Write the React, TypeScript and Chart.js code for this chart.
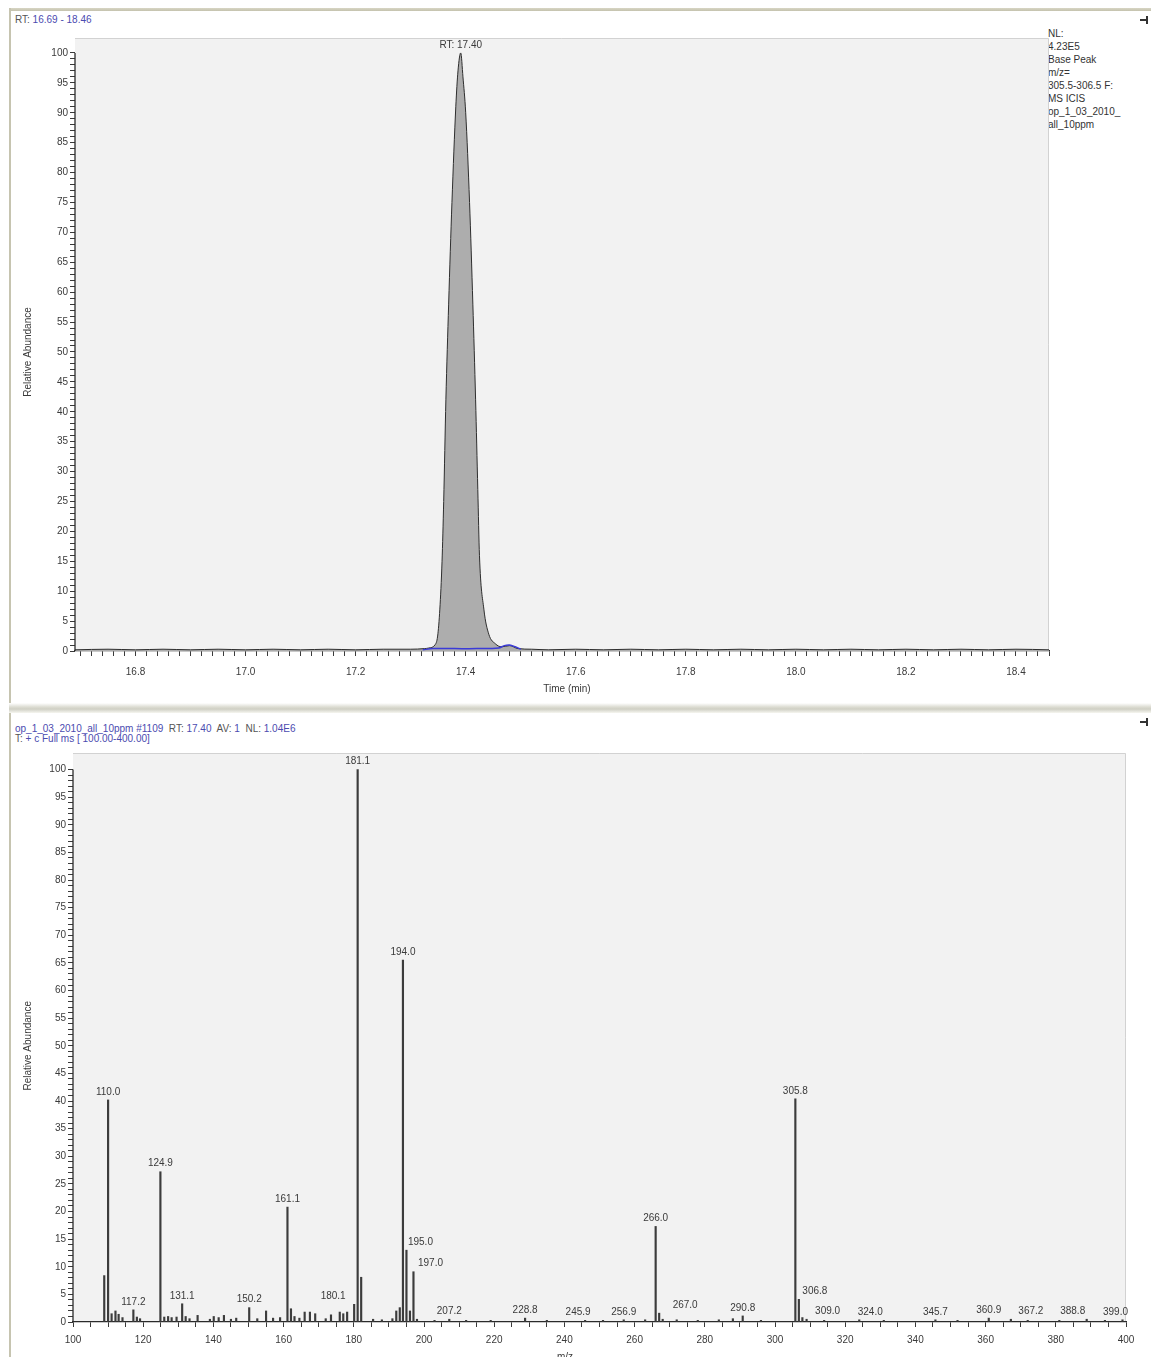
import React, { useEffect, useRef } from 'react';
import { Chart, registerables } from 'chart.js';

Chart.register(...registerables);

const FONT = '"Liberation Sans", Arial, sans-serif';

// ---------- Top panel: base-peak chromatogram (RT in min, relative abundance %) ----------
const rtTimes = [
  16.69, 16.75, 16.8, 16.85, 16.9, 16.95, 17.0, 17.05, 17.1, 17.15, 17.2, 17.25, 17.3, 17.325,
  17.333, 17.344, 17.349, 17.353, 17.357, 17.36, 17.364, 17.369, 17.375, 17.382, 17.386, 17.391,
  17.395, 17.4, 17.407, 17.413, 17.418, 17.422, 17.425, 17.433, 17.442, 17.454, 17.465, 17.48,
  17.495, 17.52, 17.55, 17.6, 17.65, 17.7, 17.75, 17.8, 17.85, 17.9, 17.95, 18.0, 18.05, 18.1,
  18.15, 18.2, 18.25, 18.3, 18.35, 18.4, 18.46,
];
const rtAbundance = [
  0.2, 0.3, 0.2, 0.3, 0.2, 0.3, 0.2, 0.3, 0.2, 0.3, 0.2, 0.3, 0.3, 0.4,
  0.5, 1.0, 2.5, 7, 15, 25, 42, 58, 75, 91, 97, 100,
  96, 90, 75, 58, 42, 27, 16, 7, 2.8, 1.2, 0.7, 0.9,
  0.4, 0.3, 0.2, 0.3, 0.2, 0.3, 0.2, 0.3, 0.2, 0.3, 0.2, 0.3, 0.2, 0.3,
  0.2, 0.3, 0.2, 0.3, 0.2, 0.3, 0.2,
];
// ICIS integration baseline (blue)
const icisTimes = [17.322, 17.34, 17.38, 17.42, 17.46, 17.47, 17.48, 17.49, 17.5];
const icisAbundance = [0.2, 0.4, 0.4, 0.4, 0.5, 0.9, 1.0, 0.7, 0.3];
const apexRt = 17.391;
const apexLabel = 'RT: 17.40';

const topXLabels = [16.8, 17.0, 17.2, 17.4, 17.6, 17.8, 18.0, 18.2, 18.4];
const topXMinorStep = 0.02;
const topXRange = [16.69, 18.46];
const yLabels = [0, 5, 10, 15, 20, 25, 30, 35, 40, 45, 50, 55, 60, 65, 70, 75, 80, 85, 90, 95, 100];

const legendLines = ['NL:', '4.23E5', 'Base Peak', 'm/z=', '305.5-306.5 F:', 'MS ICIS', 'op_1_03_2010_', 'all_10ppm'];

// ---------- Bottom panel: mass spectrum (m/z, relative abundance %) ----------
const mzValues = [
  108.9, 110.0, 111.0, 112.1, 113.0, 114.1, 117.2, 118.2, 119.1, 124.9, 126.0, 127.1, 128.1, 129.5,
  131.1, 132.1, 133.2, 135.5, 139.0, 140.1, 141.5, 143.0, 145.0, 146.5, 150.2, 152.5, 155.0, 157.0,
  159.0, 161.1, 162.1, 163.1, 164.5, 166.0, 167.5, 169.0, 172.0, 173.5, 176.0, 177.0, 178.1, 180.1,
  181.1, 182.1, 185.5, 188.0, 191.0, 192.1, 193.1, 194.0, 195.0, 196.0, 197.0, 198.0, 203.0, 207.2,
  212.0, 219.0, 228.8, 235.0, 245.9, 251.0, 256.9, 263.0, 266.0, 267.0, 268.0, 272.0, 278.0, 284.0,
  288.0, 290.8, 296.0, 305.8, 306.8, 307.8, 309.0, 314.0, 324.0, 331.0, 345.7, 352.0, 360.9, 367.2,
  372.0, 381.0, 388.8, 394.0, 399.0,
];
const mzAbundance = [
  8.4, 40.2, 1.5, 2.0, 1.4, 0.8, 2.2, 0.9, 0.6, 27.2, 0.9, 1.0, 0.8, 0.9,
  3.3, 1.0, 0.6, 1.2, 0.5, 1.0, 0.8, 1.2, 0.5, 0.7, 2.6, 0.6, 2.0, 0.7,
  0.8, 20.8, 2.4, 1.0, 0.7, 1.8, 1.8, 1.5, 0.6, 1.3, 1.8, 1.5, 1.8, 3.2,
  100, 8.1, 0.5, 0.4, 0.6, 2.0, 2.6, 65.5, 13.0, 2.0, 9.1, 0.5, 0.3, 0.5,
  0.3, 0.3, 0.7, 0.3, 0.3, 0.3, 0.4, 0.4, 17.3, 1.6, 0.5, 0.4, 0.3, 0.4,
  0.6, 1.1, 0.3, 40.4, 4.1, 0.8, 0.5, 0.3, 0.4, 0.3, 0.4, 0.3, 0.7, 0.5,
  0.3, 0.3, 0.5, 0.3, 0.4,
];
const labeledPeaks = [
  110.0, 117.2, 124.9, 131.1, 150.2, 161.1, 180.1, 181.1, 194.0, 195.0, 197.0, 207.2, 228.8, 245.9,
  256.9, 266.0, 267.0, 290.8, 305.8, 306.8, 309.0, 324.0, 345.7, 360.9, 367.2, 388.8, 399.0,
];
const bottomXLabels = [100, 120, 140, 160, 180, 200, 220, 240, 260, 280, 300, 320, 340, 360, 380, 400];
const bottomXMinorStep = 5;
const bottomXRange = [100, 400];

// label nudges (px) so overlapping annotations sit like the instrument software places them
const LABEL_NUDGE: Record<string, number> = {
  '180.1': -21, '195.0': 14, '197.0': 17, '245.9': -7, '267.0': 26, '306.8': 16, '309.0': 21,
  '324.0': 11, '367.2': 20, '388.8': -14, '399.0': -7,
};

const PLOT_BG = '#f2f2f2';
const TEXT = '#3a3a3a';

function buildTicks(range: number[], step: number) {
  const out: number[] = [];
  const start = Math.ceil(range[0] / step - 1e-9);
  const end = Math.floor(range[1] / step + 1e-9);
  for (let i = start; i <= end; i++) out.push(Math.round(i * step * 1000) / 1000);
  return out;
}
const isLabel = (v: number, labels: number[]) => labels.some((l) => Math.abs(l - v) < 1e-6);

const plotBgPlugin = {
  id: 'plotBg',
  beforeDraw(chart: any) {
    const { ctx, chartArea: a } = chart;
    ctx.save();
    ctx.fillStyle = PLOT_BG;
    ctx.fillRect(a.left, a.top, a.right - a.left, a.bottom - a.top);
    ctx.strokeStyle = '#d2d2d2';
    ctx.lineWidth = 1;
    ctx.beginPath();
    ctx.moveTo(a.left, a.top + 0.5);
    ctx.lineTo(a.right - 0.5, a.top + 0.5);
    ctx.lineTo(a.right - 0.5, a.bottom);
    ctx.stroke();
    ctx.restore();
  },
};

const axisDecorPlugin = {
  id: 'axisDecor',
  afterDraw(chart: any, _args: any, opts: any) {
    const { ctx, chartArea, scales } = chart;
    const y = scales.y;
    ctx.save();
    ctx.strokeStyle = '#2b2b2b';
    ctx.lineWidth = 1.3;
    ctx.beginPath();
    ctx.moveTo(chartArea.left, y.getPixelForValue(0));
    ctx.lineTo(chartArea.left, y.getPixelForValue(100));
    ctx.stroke();
    ctx.fillStyle = TEXT;
    ctx.font = `10px ${FONT}`;
    ctx.textAlign = 'center';
    ctx.textBaseline = 'middle';
    ctx.fillText(opts.xTitle, opts.xTitleX, opts.xTitleY);
    ctx.translate(opts.yTitleX, (y.getPixelForValue(0) + y.getPixelForValue(100)) / 2);
    ctx.rotate(-Math.PI / 2);
    ctx.fillText(opts.yTitle, 0, 0);
    ctx.restore();
  },
};

const apexLabelPlugin = {
  id: 'apexLabel',
  afterDatasetsDraw(chart: any) {
    const { ctx, scales } = chart;
    ctx.save();
    ctx.fillStyle = TEXT;
    ctx.font = `10px ${FONT}`;
    ctx.textAlign = 'center';
    ctx.textBaseline = 'bottom';
    ctx.fillText(apexLabel, scales.x.getPixelForValue(apexRt), scales.y.getPixelForValue(100) - 3);
    ctx.restore();
  },
};

const peakLabelPlugin = {
  id: 'peakLabels',
  afterDatasetsDraw(chart: any) {
    const { ctx, scales } = chart;
    ctx.save();
    ctx.fillStyle = TEXT;
    ctx.font = `10px ${FONT}`;
    ctx.textAlign = 'center';
    ctx.textBaseline = 'bottom';
    labeledPeaks.forEach((m) => {
      const i = mzValues.findIndex((v) => Math.abs(v - m) < 1e-6);
      if (i < 0) return;
      const txt = m.toFixed(1);
      const px = scales.x.getPixelForValue(m) + (LABEL_NUDGE[txt] || 0);
      const py = scales.y.getPixelForValue(mzAbundance[i]) - 3;
      ctx.fillText(txt, px, py);
    });
    ctx.restore();
  },
};

function yScale(max: number, width: number) {
  return {
    type: 'linear' as const,
    min: 0,
    max,
    afterBuildTicks: (s: any) => {
      s.ticks = buildTicks([0, 100], 1).map((v) => ({ value: v }));
    },
    afterFit: (s: any) => {
      s.width = width;
    },
    border: { display: false },
    grid: { display: true, drawOnChartArea: false, drawTicks: true, tickLength: 5, color: '#3a3a3a', lineWidth: 1 },
    ticks: {
      autoSkip: false,
      padding: 2,
      color: TEXT,
      font: { family: FONT, size: 10 },
      callback: (v: any) => (isLabel(Number(v), yLabels) ? String(v) : ''),
    },
  };
}

function xScale(range: number[], step: number, labels: number[], height: number, pad: number, decimals: number) {
  return {
    type: 'linear' as const,
    min: range[0],
    max: range[1],
    offset: false,
    afterBuildTicks: (s: any) => {
      s.ticks = buildTicks(range, step).map((v) => ({ value: v }));
    },
    afterFit: (s: any) => {
      s.height = height;
    },
    border: { display: true, color: '#2b2b2b', width: 1.3 },
    grid: { display: true, offset: false, drawOnChartArea: false, drawTicks: true, tickLength: 5, color: '#3a3a3a', lineWidth: 1 },
    ticks: {
      autoSkip: false,
      maxRotation: 0,
      padding: pad,
      color: TEXT,
      font: { family: FONT, size: 10 },
      callback: (v: any) => (isLabel(Number(v), labels) ? Number(v).toFixed(decimals) : ''),
    },
  };
}

export default function App() {
  const topRef = useRef<HTMLCanvasElement>(null);
  const botRef = useRef<HTMLCanvasElement>(null);

  useEffect(() => {
    const top = new Chart(topRef.current as HTMLCanvasElement, {
      type: 'line',
      data: {
        datasets: [
          {
            data: icisTimes.map((t, i) => ({ x: t, y: icisAbundance[i] })),
            borderColor: '#3b3bd8',
            borderWidth: 1.5,
            pointRadius: 0,
            fill: false,
            tension: 0.3,
          },
          {
            data: rtTimes.map((t, i) => ({ x: t, y: rtAbundance[i] })),
            borderColor: '#2e2e2e',
            borderWidth: 1,
            backgroundColor: '#adadad',
            pointRadius: 0,
            fill: 'origin',
            cubicInterpolationMode: 'monotone',
          },
        ],
      },
      options: {
        animation: false,
        responsive: false,
        devicePixelRatio: 1,
        layout: { padding: { top: 2, right: 102, left: 0, bottom: 0 } },
        plugins: {
          legend: { display: false },
          tooltip: { enabled: false },
          axisDecor: { xTitle: 'Time (min)', xTitleX: 555, xTitleY: 659, yTitle: 'Relative Abundance', yTitleX: 16 },
        } as any,
        scales: {
          x: xScale(topXRange, topXMinorStep, topXLabels, 52, 10, 1),
          y: yScale(102.5, 63),
        } as any,
      },
      plugins: [plotBgPlugin, axisDecorPlugin, apexLabelPlugin],
    });

    const bottom = new Chart(botRef.current as HTMLCanvasElement, {
      type: 'bar',
      data: {
        datasets: [
          {
            data: mzValues.map((m, i) => ({ x: m, y: mzAbundance[i] })),
            backgroundColor: '#3c3c3c',
            borderWidth: 0,
            barThickness: 1.5,
            grouped: false,
          } as any,
        ],
      },
      options: {
        animation: false,
        responsive: false,
        devicePixelRatio: 1,
        layout: { padding: { top: 0, right: 25, left: 0, bottom: 0 } },
        plugins: {
          legend: { display: false },
          tooltip: { enabled: false },
          axisDecor: { xTitle: 'm/z', xTitleX: 553, xTitleY: 612, yTitle: 'Relative Abundance', yTitleX: 16 },
        } as any,
        scales: {
          x: xScale(bottomXRange, bottomXMinorStep, bottomXLabels, 35, 7, 0),
          y: yScale(103, 61),
        } as any,
      },
      plugins: [plotBgPlugin, axisDecorPlugin, peakLabelPlugin],
    });

    return () => {
      top.destroy();
      bottom.destroy();
    };
  }, []);

  const blue = '#4b4bb0';
  const gray = '#555';
  const txt: React.CSSProperties = { position: 'absolute', fontFamily: FONT, fontSize: 10, whiteSpace: 'pre', lineHeight: '11px' };

  const Pin = ({ top }: { top: number }) => (
    <div style={{ position: 'absolute', left: 1140, top }}>
      <div style={{ position: 'absolute', left: 0, top: 3, width: 7, height: 2, background: '#333' }} />
      <div style={{ position: 'absolute', left: 6, top: 0, width: 2, height: 8, background: '#333' }} />
    </div>
  );

  return (
    <div style={{ position: 'absolute', left: 0, top: 0, width: 1151, height: 1357, background: '#fff', overflow: 'hidden' }}>
      {/* frame */}
      <div style={{ position: 'absolute', left: 9, top: 8, width: 1142, height: 3, background: 'linear-gradient(#d8d6c4, #c4c2ae)' }} />
      <div style={{ position: 'absolute', left: 9, top: 8, width: 2, height: 1349, background: '#c6c4b0' }} />
      <div style={{ position: 'absolute', left: 9, top: 703, width: 1142, height: 10, background: 'linear-gradient(#ffffff, #dcdcd2 40%, #cfcfc4 60%, #f6f6f0)' }} />
      <Pin top={16} />
      <Pin top={718} />

      {/* headers */}
      <div style={{ ...txt, left: 15, top: 14 }}>
        <span style={{ color: gray }}>RT: </span>
        <span style={{ color: blue }}>16.69 - 18.46</span>
      </div>
      <div style={{ ...txt, left: 15, top: 723 }}>
        <span style={{ color: blue }}>op_1_03_2010_all_10ppm #1109  </span>
        <span style={{ color: gray }}>RT: </span>
        <span style={{ color: blue }}>17.40  </span>
        <span style={{ color: gray }}>AV: </span>
        <span style={{ color: blue }}>1  </span>
        <span style={{ color: gray }}>NL: </span>
        <span style={{ color: blue }}>1.04E6</span>
      </div>
      <div style={{ ...txt, left: 15, top: 733 }}>
        <span style={{ color: gray }}>T: </span>
        <span style={{ color: blue }}>+ c Full ms [ 100.00-400.00]</span>
      </div>

      {/* right-hand info text */}
      <div style={{ ...txt, left: 1048, top: 27, color: '#333', lineHeight: '13px' }}>
        {legendLines.map((l) => (
          <div key={l}>{l}</div>
        ))}
      </div>

      <canvas ref={topRef} width={1139} height={673} style={{ position: 'absolute', left: 12, top: 30, width: 1139, height: 673 }} />
      <canvas ref={botRef} width={1139} height={612} style={{ position: 'absolute', left: 12, top: 745, width: 1139, height: 612 }} />
    </div>
  );
}
